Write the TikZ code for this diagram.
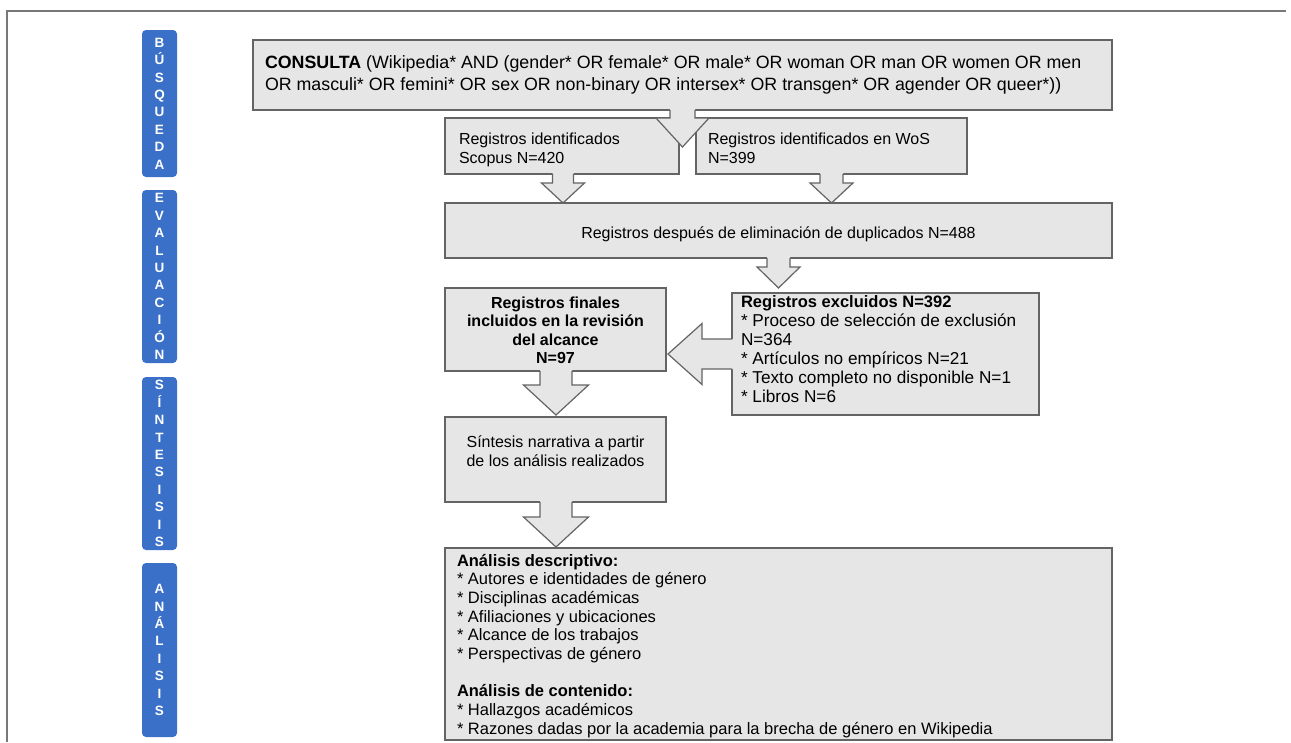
\documentclass[tikz,border=0pt]{standalone}
\usepackage{fontspec}
\setmainfont{Liberation Sans}
\usetikzlibrary{calc}
\definecolor{boxfill}{RGB}{230,230,230}
\definecolor{boxline}{RGB}{100,100,100}
\definecolor{barblue}{RGB}{58,112,200}
\definecolor{framegray}{RGB}{120,120,120}
\newcommand\fsz[2]{\fontsize{#1pt}{#2pt}\selectfont}
\newcommand\fl{\rule{0pt}{16pt}}
% block arrow pointing down: #1 start (source edge), #2 tip, #3 shaft half width, #4 head half width, #5 head length
\newcommand\blkdown[5]{%
  \fill[arrfill] let \p1=(#1), \p2=(#2) in
    (\x1-#3pt,\y1+1.5pt) -- (\x1-#3pt,\y2+#5pt) -- (\x1-#4pt,\y2+#5pt) -- (\x1,\y2)
    -- (\x1+#4pt,\y2+#5pt) -- (\x1+#3pt,\y2+#5pt) -- (\x1+#3pt,\y1+1.5pt) -- cycle;
  \draw[arrline] let \p1=(#1), \p2=(#2) in
    (\x1-#3pt,\y1) -- (\x1-#3pt,\y2+#5pt) -- (\x1-#4pt,\y2+#5pt) -- (\x1,\y2)
    -- (\x1+#4pt,\y2+#5pt) -- (\x1+#3pt,\y2+#5pt) -- (\x1+#3pt,\y1);
}
% block arrow pointing left
\newcommand\blkleft[5]{%
  \fill[arrfill] let \p1=(#1), \p2=(#2) in
    (\x1+1.5pt,\y1-#3pt) -- (\x2+#5pt,\y1-#3pt) -- (\x2+#5pt,\y1-#4pt) -- (\x2,\y1)
    -- (\x2+#5pt,\y1+#4pt) -- (\x2+#5pt,\y1+#3pt) -- (\x1+1.5pt,\y1+#3pt) -- cycle;
  \draw[arrline] let \p1=(#1), \p2=(#2) in
    (\x1,\y1-#3pt) -- (\x2+#5pt,\y1-#3pt) -- (\x2+#5pt,\y1-#4pt) -- (\x2,\y1)
    -- (\x2+#5pt,\y1+#4pt) -- (\x2+#5pt,\y1+#3pt) -- (\x1,\y1+#3pt);
}
\begin{document}
\begin{tikzpicture}[x=1pt,y=-1pt,
  box/.style={draw=boxline, fill=boxfill, line width=1.2pt, inner sep=0pt, outer sep=0pt, rectangle, anchor=north west},
  txt/.style={inner sep=0pt, outer sep=0pt, font=\fsz{16}{19}},
  bar/.style={fill=barblue, draw=none, rounded corners=4pt, inner sep=0pt, outer sep=0pt, minimum width=35pt},
  barletters/.style={text=white, font=\fsz{13.5}{17.4}\bfseries, align=center, inner sep=0pt},
  arrfill/.style={fill=boxfill},
  arrline/.style={draw=boxline, line width=1.2pt, line join=miter},
]
\fill[white] (0,0) rectangle (1291,742);
\useasboundingbox (0,0) rectangle (1291,742);
\draw[framegray, line width=1.2pt] (7,742) -- (7,11) -- (1286,11);

% side bars
\node[bar, minimum height=147pt] (b1) at (159.5,103.5) {};
\node[barletters] (b1t) at (b1.center) {B\\Ú\\S\\Q\\U\\E\\D\\A};
\node[bar, minimum height=173pt] (b2) at (159.5,276.5) {};
\node[barletters] (b2t) at (b2.center) {E\\V\\A\\L\\U\\A\\C\\I\\Ó\\N};
\node[bar, minimum height=173pt] (b3) at (159.5,463.5) {};
\node[barletters] (b3t) at (b3.center) {S\\Í\\N\\T\\E\\S\\I\\S\\I\\S};
\node[bar, minimum height=174pt] (b4) at (159.5,650) {};
\node[barletters] (b4t) at (b4.center) {A\\N\\Á\\L\\I\\S\\I\\S};

% boxes
\node[box, minimum width=859pt, minimum height=70pt] (consulta) at (253,40) {};
\node[box, minimum width=234pt, minimum height=56pt] (scopus) at (445,118) {};
\node[box, minimum width=271pt, minimum height=56pt] (wos) at (696,118) {};
\node[box, minimum width=667pt, minimum height=55pt] (dup) at (445,203) {};
\node[box, minimum width=221pt, minimum height=83pt] (final) at (445,288) {};
\node[box, minimum width=307pt, minimum height=122pt] (excl) at (732,293) {};
\node[box, minimum width=221pt, minimum height=85pt] (sint) at (445,417) {};
\node[box, minimum width=667pt, minimum height=192pt] (anal) at (445,548) {};

% block arrows
\coordinate (a1s) at ($(consulta.south west)+(429.5,0)$);
\coordinate (a1t) at ($(a1s)+(0,37)$);
\blkdown{a1s}{a1t}{12.5}{26.5}{29}
\coordinate (a2s) at ($(scopus.south west)+(118,0)$);
\coordinate (a2t) at (a2s |- dup.north);
\blkdown{a2s}{a2t}{10.5}{21.5}{20}
\coordinate (a3s) at ($(wos.south west)+(135.5,0)$);
\coordinate (a3t) at (a3s |- dup.north);
\blkdown{a3s}{a3t}{11.5}{21.5}{20}
\coordinate (a4s) at ($(dup.south west)+(333.5,0)$);
\coordinate (a4t) at ($(a4s |- excl.north)+(0,-5)$);
\blkdown{a4s}{a4t}{11.5}{21.5}{21}
\coordinate (a5s) at (excl.west);
\coordinate (a5t) at ($(final.east |- a5s)+(2,0)$);
\blkleft{a5s}{a5t}{15}{30.5}{34}
\coordinate (a6s) at ($(final.south west)+(111,0)$);
\coordinate (a6t) at ($(a6s |- sint.north)+(0,-2)$);
\blkdown{a6s}{a6t}{16}{32.5}{30}
\coordinate (a7s) at ($(sint.south west)+(111,0)$);
\coordinate (a7t) at ($(a7s |- anal.north)+(0,-1)$);
\blkdown{a7s}{a7t}{16}{32.5}{30}

% texts (first line baseline = node top + 16)
\node[txt, font=\fsz{17.8}{22}, align=left, anchor=north west] (consultaT) at (265,52)
  {\fl\textbf{CONSULTA} (Wikipedia* AND (gender* OR female* OR male* OR woman OR man OR women OR men\\
   OR masculi* OR femini* OR sex OR non-binary OR intersex* OR transgen* OR agender OR queer*))};
\node[txt, align=left, anchor=north west] (scopusT) at (459,128)
  {\fl Registros identificados\\Scopus N=420};
\node[txt, align=left, anchor=north west] (wosT) at (708,128)
  {\fl Registros identificados en WoS\\N=399};
\node[txt, align=center, anchor=base] (dupT) at (778.5,238)
  {Registros después de eliminación de duplicados N=488};
\node[txt, align=center, anchor=north, font=\fsz{16}{18.5}\bfseries] (finalT) at (555.5,292)
  {\fl Registros finales\\incluidos en la revisión\\del alcance\\N=97};
\node[txt, align=left, anchor=north west, font=\fsz{17.2}{19}] (exclT) at (741,291)
  {\fl{\fsz{16.5}{19}\bfseries Registros excluidos N=392}\\* Proceso de selección de exclusión\\N=364\\* Artículos no empíricos N=21\\* Texto completo no disponible N=1\\* Libros N=6};
\node[txt, align=center, anchor=north, font=\fsz{16}{19.5}] (sintT) at (555.5,431)
  {\fl Síntesis narrativa a partir\\de los análisis realizados};
\node[txt, align=left, anchor=north west, font=\fsz{16.5}{18.7}] (analT) at (457,550)
  {\fl\textbf{Análisis descriptivo:}\\* Autores e identidades de género\\* Disciplinas académicas\\* Afiliaciones y ubicaciones\\* Alcance de los trabajos\\* Perspectivas de género\\[18.7pt]\textbf{Análisis de contenido:}\\* Hallazgos académicos\\* Razones dadas por la academia para la brecha de género en Wikipedia};
\end{tikzpicture}
\end{document}
